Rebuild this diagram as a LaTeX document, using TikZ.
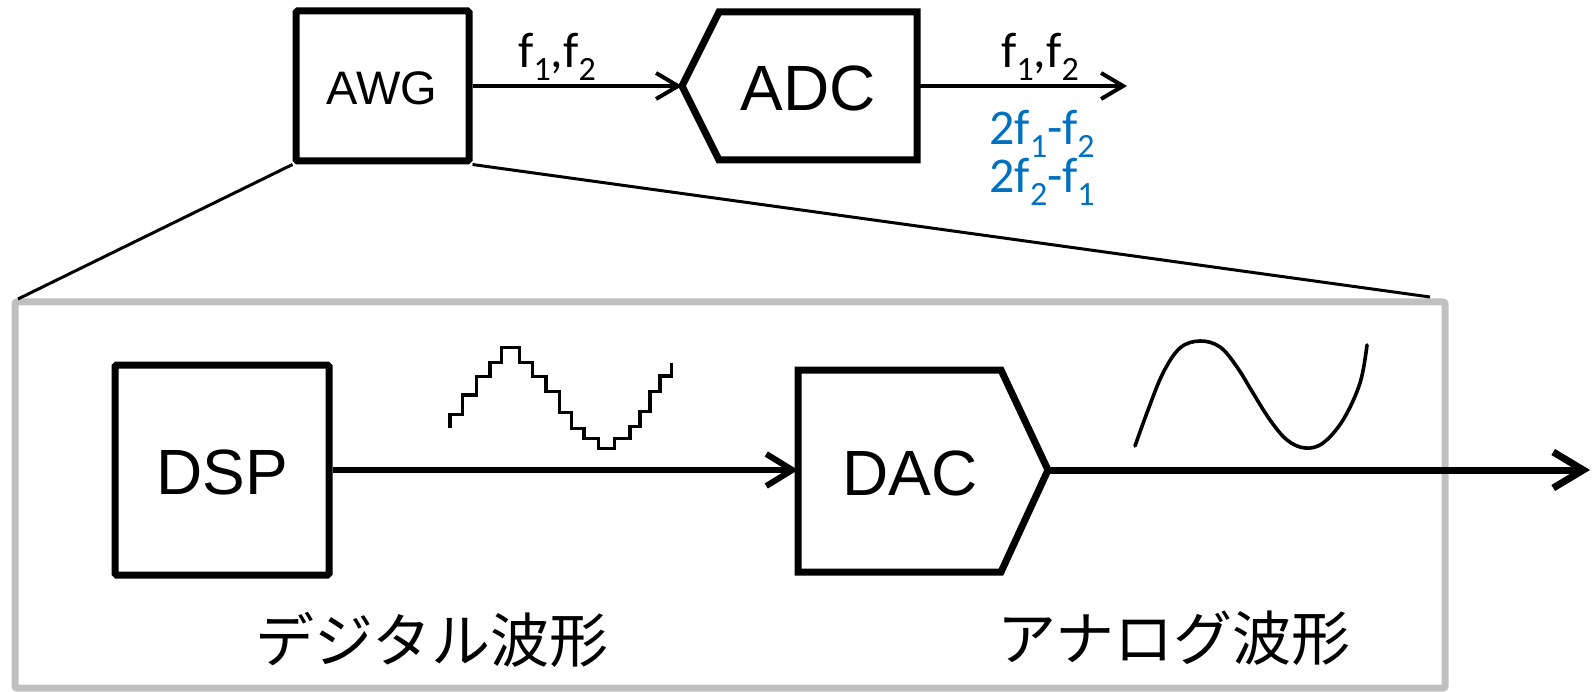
\documentclass[tikz,border=0pt]{standalone}
\usepackage{fontspec}
\setmainfont{Liberation Sans}
\newfontfamily\calfont{Carlito}
\newfontfamily\jpfont{Noto Sans CJK JP}
\usetikzlibrary{arrows.meta}
\definecolor{subblue}{HTML}{0070C0}
\definecolor{framegray}{HTML}{C0C0C0}
\newcommand{\fsb}[1]{\raisebox{-0.25em}{\fontsize{34pt}{34pt}\selectfont #1}}
\tikzset{
  blkbox/.style={draw=black, line width=7pt, rounded corners=1.5pt, inner sep=0pt, fill=white},
  blkpoly/.style={draw=black, line width=7pt, line join=miter},
  boxtext/.style={font=\fontsize{64pt}{64pt}\selectfont, inner sep=0pt},
  toparrow/.style={line width=4pt, -{Straight Barb[length=22pt,width=26pt]}},
  botarrow/.style={line width=6pt, -{Straight Barb[length=26pt,width=32pt]}},
  outarrow/.style={line width=7pt, -{Straight Barb[length=30pt,width=36pt]}},
  thinline/.style={line width=3pt},
  flabel/.style={font=\calfont\fontsize{50pt}{50pt}\selectfont, inner sep=0pt},
  jplabel/.style={font=\jpfont\fontsize{59pt}{59pt}\selectfont, inner sep=0pt},
}
\begin{document}
\begin{tikzpicture}[x=1pt,y=-1pt]
\useasboundingbox (0,0) rectangle (1594,692);
% zoom frame
\node[draw=framegray, line width=7pt, rounded corners=2pt, minimum width=1430pt, minimum height=386pt, inner sep=0pt] (frame) at (730,495) {};
\coordinate (frameL) at (18,299);
\coordinate (frameR) at (1430,297);
% AWG
\node[blkbox, minimum width=173pt, minimum height=150pt] (awg) at (382.5,86) {};
\node[font=\fontsize{47pt}{47pt}\selectfont, inner sep=0pt] (awgt) at (382,88) {AWG};
% ADC pentagon
\coordinate (adcIn) at (682,86);
\coordinate (adcTL) at (719,12);
\coordinate (adcTR) at (917,12);
\coordinate (adcBR) at (917,160);
\coordinate (adcBL) at (719,160);
\coordinate (adcOut) at (917,86);
\draw[blkpoly] (adcIn) -- (adcTL) -- (adcTR) -- (adcBR) -- (adcBL) -- cycle;
\node[boxtext] (adc) at (808,88) {ADC};
\coordinate (adcEnd) at (1127,86);
% top arrows
\draw[toparrow] (awg.east) -- (adcIn);
\draw[toparrow] (adcOut) -- (adcEnd);
\node[flabel, anchor=base] (lab1) at (557,68) {f\fsb{1},f\fsb{2}};
\node[flabel, anchor=base] (lab2) at (1040,68) {f\fsb{1},f\fsb{2}};
\node[flabel, text=subblue, anchor=base] (lab3) at (1042,145) {2f\fsb{1}-f\fsb{2}};
\node[flabel, text=subblue, anchor=base] (lab4) at (1042,193) {2f\fsb{2}-f\fsb{1}};
% zoom lines
\draw[thinline] (awg.south west) -- (frameL);
\draw[thinline] (awg.south east) -- (frameR);
% DSP
\node[blkbox, minimum width=214pt, minimum height=210pt] (dsp) at (222,470) {};
\node[boxtext] (dspt) at (222,472) {DSP};
% DAC pentagon
\coordinate (dacIn) at (798,470);
\coordinate (dacTL) at (798,370);
\coordinate (dacTR) at (1001,370);
\coordinate (dacOut) at (1048,470);
\coordinate (dacBR) at (1001,572);
\coordinate (dacBL) at (798,572);
\draw[blkpoly] (dacTL) -- (dacTR) -- (dacOut) -- (dacBR) -- (dacBL) -- cycle;
\node[boxtext] (dac) at (910,473) {DAC};
\coordinate (outEnd) at (1590,470);
\draw[botarrow] (dsp.east) -- (dacIn);
\draw[outarrow] (dacOut) -- (outEnd);
% staircase waveform
\draw[line width=3.4pt, line join=miter] (450,428.3) -- (450,414.3) -- (462.3,414.3) -- (462.3,395) -- (476.7,395) -- (476.7,376.7) -- (490,376.7) -- (490,362.7) -- (501.7,362.7) -- (501.7,347.3) -- (519.3,347.3) -- (519.3,362.7) -- (532.7,362.7) -- (532.7,376.7) -- (546,376.7) -- (546,391.7) -- (559.3,391.7) -- (559.3,412.7) -- (571.7,412.7) -- (571.7,428.3) -- (584,428.3) -- (584,438.3) -- (598.3,438.3) -- (598.3,448.3) -- (614.3,448.3) -- (614.3,438.3) -- (630,438.3) -- (630,426.7) -- (640,426.7) -- (640,411.7) -- (650,411.7) -- (650,391.7) -- (660,391.7) -- (660,376) -- (671.7,376) -- (671.7,362.7);
% analog waveform
\draw[line width=3.6pt, line cap=round] plot[smooth, tension=0.6] coordinates {(1135,446) (1148,410) (1163,373) (1180,348) (1200,341) (1220,347) (1237,367) (1253,393) (1270,420) (1287,440) (1305,448) (1323,443) (1343,420) (1360,383) (1367,345)};
% Japanese labels
\node[jplabel] (dig) at (432,640) {デジタル波形};
\node[jplabel] (ana) at (1174,638) {アナログ波形};
\end{tikzpicture}
\end{document}
